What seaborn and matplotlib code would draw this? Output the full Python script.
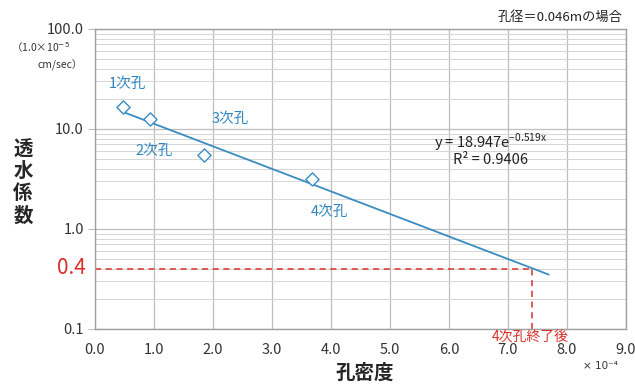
import numpy as np
import pandas as pd
import matplotlib
matplotlib.use("Agg")
import matplotlib.pyplot as plt
import seaborn as sns
from matplotlib.ticker import FixedLocator, NullFormatter, LogLocator

# ---- data ----
hole_labels = ["1次孔", "2次孔", "3次孔", "4次孔"]
hole_density = [0.47, 0.93, 1.85, 3.68]          # ×10^-4
permeability = [16.7, 12.5, 5.5, 3.15]           # ×10^-5 cm/sec
fit_a = 18.947
fit_b = -0.519
fit_x_range = [0.47, 7.69]
target_k = 0.4
target_x = 7.4
x_ticks = [0.0, 1.0, 2.0, 3.0, 4.0, 5.0, 6.0, 7.0, 8.0, 9.0]
y_ticks = [0.1, 1.0, 10.0, 100.0]
y_tick_labels = ["0.1", "1.0", "10.0", "100.0"]

sns.set_style("white")
plt.rcParams["font.family"] = ["Noto Sans CJK JP", "DejaVu Sans"]

blue = "#3A8CC1"
txtblue = "#2F86BF"
red = "#D9302A"

fig = plt.figure(figsize=(6.35, 3.85), dpi=100)
ax = fig.add_axes([95/635, 1-329/385, (626-95)/635, (329-29)/385])

df = pd.DataFrame({"x": hole_density, "y": permeability, "label": hole_labels})
xs = np.linspace(fit_x_range[0], fit_x_range[1], 100)
fit_df = pd.DataFrame({"x": xs, "y": fit_a * np.exp(fit_b * xs)})

ax.set_yscale("log")
ax.set_xlim(0, 9)
ax.set_ylim(0.1, 100)

# grid
ax.yaxis.set_minor_locator(LogLocator(base=10, subs=np.arange(2, 10)))
ax.yaxis.set_minor_formatter(NullFormatter())
ax.grid(True, which="major", axis="both", color="#BEBEBE", lw=0.9)
ax.grid(True, which="minor", axis="y", color="#D6D6D6", lw=0.7)
ax.set_axisbelow(True)

sns.lineplot(data=fit_df, x="x", y="y", ax=ax, color=blue, lw=1.3, zorder=3)
sns.scatterplot(data=df, x="x", y="y", ax=ax, marker="D", s=45,
                facecolor="white", edgecolor=blue, linewidth=1.0, zorder=4)

# red dashed guide
ax.plot([0, target_x], [target_k, target_k], ls=(0, (4, 3)), color=red, lw=1.1, zorder=2)
ax.plot([target_x, target_x], [0.1, target_k], ls=(0, (4, 3)), color=red, lw=1.1, zorder=2)

ax.xaxis.set_major_locator(FixedLocator(x_ticks))
ax.set_xticklabels([f"{v:.1f}" for v in x_ticks], fontsize=10.5, color="#333333")
ax.yaxis.set_major_locator(FixedLocator(y_ticks))
ax.set_yticklabels(y_tick_labels, fontsize=10.5, color="#333333")
ax.tick_params(axis="y", which="major", length=5, color="#BEBEBE", pad=3, direction="out", left=True)
ax.tick_params(axis="y", which="minor", length=0)
ax.tick_params(axis="x", length=0, pad=10)
for s in ax.spines.values():
    s.set_color("#A0A0A0")
    s.set_linewidth(1.0)
ax.set_xlabel("")
ax.set_ylabel("")

# point labels
label_pos = [(0.55, 28), (1.0, 6.0), (2.3, 12.6), (3.97, 1.48)]
for (lx, ly), t in zip(label_pos, hole_labels):
    ax.text(lx, ly, t, color=txtblue, fontsize=10.5, ha="center", va="center")

# equation
ax.text(6.7, 7.3, r"y = 18.947e$^{\mathregular{-0.519x}}$", fontsize=10.5, ha="center", va="center", color="#222222")
ax.text(6.7, 4.9, "R² = 0.9406", fontsize=10.5, ha="center", va="center", color="#222222")

# red labels
fig.text(86/635, 1-268/385, "0.4", color=red, fontsize=15, ha="right", va="center")
fig.text(530/635, 1-337/385, "4次孔終了後", color=red, fontsize=10, ha="center", va="center")

# axis titles / units
fig.text(23/635, 1-183/385, "透\n水\n係\n数", fontsize=14, fontweight="bold",
         ha="center", va="center", linespacing=1.2)
fig.text(365/635, 1-373/385, "孔密度", fontsize=14, fontweight="bold", ha="center", va="center")
fig.text(600/635, 1-366/385, "× 10⁻⁴", fontsize=7.5, ha="center", va="center",
         family=["DejaVu Sans"], color="#333333")
fig.text(40/635, 1-48/385, "（1.0×10$^{-5}$", fontsize=7.5, ha="center", va="center", color="#333333")
fig.text(60/635, 1-65/385, "cm/sec）", fontsize=7.5, ha="center", va="center", color="#333333")
fig.text(622/635, 1-17/385, "孔径＝0.046mの場合", fontsize=9.5, ha="right", va="center", color="#222222")

fig.savefig("out.png", dpi=100)
